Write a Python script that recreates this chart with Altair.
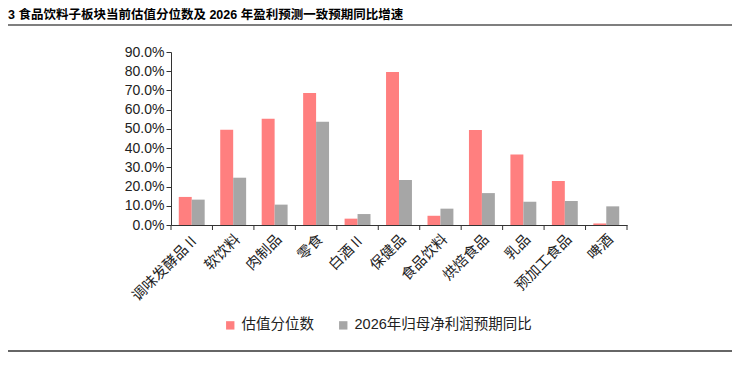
import altair as alt
import pandas as pd

categories = ["调味发酵品Ⅱ", "软饮料", "肉制品", "零食", "白酒Ⅱ", "保健品",
              "食品饮料", "烘焙食品", "乳品", "预加工食品", "啤酒"]
series = ["估值分位数", "2026年归母净利润预期同比"]
valuation_pct = [14.6, 49.5, 55.3, 68.7, 3.3, 79.6, 4.8, 49.4, 36.7, 22.9, 0.8]
profit_yoy = [13.2, 24.6, 10.6, 53.7, 5.7, 23.4, 8.5, 16.6, 12.1, 12.5, 9.7]
y_ticks = [0, 0.1, 0.2, 0.3, 0.4, 0.5, 0.6, 0.7, 0.8, 0.9]
title_text = "3 食品饮料子板块当前估值分位数及 2026 年盈利预测一致预期同比增速"
colors = ["#FF7F7F", "#A6A6A6"]

rows = []
for c, a, b in zip(categories, valuation_pct, profit_yoy):
    rows.append({"cat": c, "series": series[0], "value": a / 100})
    rows.append({"cat": c, "series": series[1], "value": b / 100})
df = pd.DataFrame(rows)
cat_df = pd.DataFrame({"cat": categories})
one = pd.DataFrame({"t": [title_text]})

W, H = 456, 173
PL, PT, PR, PB = 163, 44, 105, 127
FONT = "Liberation Sans, Noto Sans CJK SC"

x_axis = alt.Axis(title=None, labelAngle=-45, ticks=False,
                  domainColor="#333333", labelColor="#222222",
                  labelFontSize=14.5, labelFont=FONT, labelPadding=7)

bars = alt.Chart(df).mark_bar().encode(
    x=alt.X("cat:N", sort=categories,
            scale=alt.Scale(paddingInner=0, paddingOuter=0), axis=x_axis),
    xOffset=alt.XOffset("series:N", sort=series,
                        scale=alt.Scale(paddingInner=0, paddingOuter=0.6)),
    y=alt.Y("value:Q", scale=alt.Scale(domain=[0, 0.9], nice=False, zero=True),
            axis=alt.Axis(title=None, format=".1%", values=y_ticks, grid=False,
                          domainColor="#333333", tickColor="#333333", tickSize=5,
                          labelColor="#222222", labelFontSize=14, labelFont=FONT,
                          labelPadding=2)),
    color=alt.Color("series:N", sort=series,
                    scale=alt.Scale(domain=series, range=colors),
                    legend=alt.Legend(title=None, orient="none", legendX=52, legendY=266,
                                      direction="horizontal", symbolType="square",
                                      symbolSize=70, symbolStrokeWidth=0,
                                      labelFontSize=14.5, labelFont=FONT,
                                      labelColor="#222222", columnPadding=22,
                                      labelOffset=4, labelLimit=400)),
)

ticks = alt.Chart(cat_df).mark_rule(color="#333333").encode(
    x=alt.X("cat:N", sort=categories, bandPosition=0, axis=x_axis),
    y=alt.value(H), y2=alt.value(H + 5),
)
end_tick = alt.Chart(one).mark_rule(color="#333333").encode(
    x=alt.value(W), y=alt.value(H), y2=alt.value(H + 5),
)

title = alt.Chart(one).mark_text(align="left", baseline="alphabetic",
                                 fontSize=12.5, fontWeight="bold",
                                 font="Liberation Sans, Noto Sans CJK SC",
                                 color="#000000").encode(
    x=alt.value(-PL), y=alt.value(-33), text="t:N")
top_line = alt.Chart(one).mark_rule(color="#555555", strokeWidth=1.5).encode(
    x=alt.value(-PL), x2=alt.value(W + PR), y=alt.value(-27))
bottom_line = alt.Chart(one).mark_rule(color="#333333", strokeWidth=1.5).encode(
    x=alt.value(-PL), x2=alt.value(W + PR), y=alt.value(H + PB - 1))

chart = alt.layer(bars, ticks, end_tick, title, top_line, bottom_line).properties(
    width=W, height=H,
    autosize=alt.AutoSizeParams(type="none"),
    padding={"left": PL, "top": PT, "right": PR, "bottom": PB},
).configure_view(stroke=None)

chart.save("out.html", embed_options={"renderer": "svg", "actions": False})
